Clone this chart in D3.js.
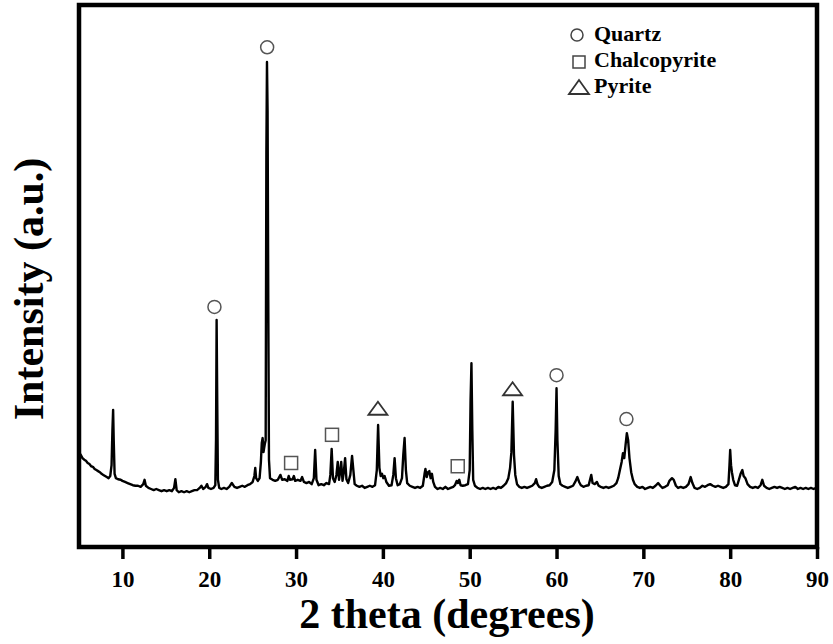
<!DOCTYPE html>
<html>
<head>
<meta charset="utf-8">
<script src="https://cdn.jsdelivr.net/npm/d3@7"></script>
<style>
  body { margin: 0; background: #fff; }
  text { font-family: "Liberation Serif", "Times New Roman", serif; font-weight: bold; }
</style>
</head>
<body>
<script>
// XRD pattern
var twoTheta = [5.0,5.2,5.4,5.6,5.8,6.0,6.2,6.4,6.6,6.8,7.0,7.2,7.4,7.6,7.8,8.0,8.2,8.4,8.6,8.75,8.85,8.93,9.0,9.1,9.25,9.5,9.8,
  10.0,10.3,10.6,10.9,11.2,11.5,11.8,12.1,12.4,12.55,12.7,13.0,13.3,13.6,13.9,14.2,14.5,14.8,15.1,15.4,15.7,15.95,16.1,16.25,16.5,16.8,
  17.1,17.4,17.7,18.0,18.3,18.6,18.9,19.1,19.3,19.6,19.75,19.9,20.2,20.5,20.7,20.78,20.85,20.92,21.0,21.15,21.4,21.7,22.0,22.3,22.6,
  22.9,23.2,23.5,23.8,24.1,24.4,24.7,25.0,25.2,25.3,25.4,25.6,25.8,25.95,26.05,26.15,26.25,26.4,26.5,26.58,26.65,26.72,26.8,26.88,27.0,
  27.3,27.6,27.9,28.2,28.4,28.7,29.0,29.15,29.3,29.6,29.75,29.9,30.2,30.5,30.7,30.9,31.2,31.5,31.8,32.05,32.2,32.35,32.6,32.9,33.2,
  33.5,33.8,33.95,34.1,34.25,34.45,34.65,34.8,34.95,35.1,35.2,35.35,35.5,35.65,35.8,36.0,36.25,36.45,36.6,36.75,37.0,37.3,37.6,37.9,
  38.2,38.5,38.8,39.1,39.3,39.45,39.6,39.75,39.9,40.05,40.2,40.4,40.7,41.0,41.2,41.35,41.5,41.7,41.95,42.2,42.35,42.5,42.65,42.8,
  43.1,43.4,43.7,44.0,44.3,44.6,44.8,44.9,45.05,45.2,45.35,45.5,45.65,45.8,46.0,46.3,46.6,46.9,47.2,47.5,47.8,48.1,48.3,48.5,48.65,
  48.8,48.95,49.2,49.5,49.8,50.0,50.1,50.2,50.3,50.4,50.6,50.9,51.2,51.5,51.8,52.1,52.4,52.7,53.0,53.3,53.6,53.9,54.2,54.45,54.65,
  54.8,54.95,55.1,55.25,55.45,55.7,56.0,56.3,56.6,56.9,57.2,57.5,57.65,57.8,58.0,58.3,58.6,58.9,59.2,59.5,59.75,59.9,60.0,60.1,60.25,
  60.45,60.7,61.0,61.3,61.6,61.9,62.15,62.4,62.6,62.8,63.1,63.4,63.7,63.9,64.0,64.15,64.4,64.65,64.85,65.1,65.4,65.7,66.0,66.3,66.6,
  66.9,67.1,67.3,67.5,67.65,67.8,67.95,68.1,68.25,68.4,68.6,68.8,69.0,69.3,69.6,69.9,70.2,70.5,70.8,71.1,71.4,71.7,71.95,72.2,72.5,
  72.8,73.0,73.3,73.5,73.75,74.0,74.3,74.6,74.9,75.2,75.45,75.65,75.9,76.2,76.5,76.8,77.1,77.4,77.7,78.0,78.3,78.6,78.9,79.2,79.5,
  79.8,79.92,80.0,80.1,80.2,80.35,80.55,80.8,81.0,81.2,81.4,81.55,81.75,82.0,82.3,82.6,82.9,83.2,83.5,83.7,83.9,84.2,84.5,84.8,85.1,
  85.4,85.7,86.0,86.3,86.6,86.9,87.2,87.5,87.8,88.1,88.4,88.7,89.0,89.3,89.6,89.9];

var intensity = [175,170,164,161,159,155,153,149,148,144,142,140,138,135,133,131,129,127,131,151,216,253,197,135,127,125,124,
  122,120,118,116,114,113,113,111,116,124,113,109,107,105,107,105,103,105,103,105,103,109,125,105,101,103,
  101,103,101,103,105,105,109,113,107,111,116,109,107,109,114,197,419,271,124,109,107,109,107,111,118,
  111,109,111,113,111,114,116,120,131,146,127,122,127,157,192,201,175,190,197,727,895,806,456,161,127,
  124,122,124,133,124,125,122,131,124,125,131,122,124,122,129,120,118,120,116,127,179,124,114,116,114,
  118,116,133,181,127,120,133,157,124,142,157,122,138,164,125,118,133,168,142,116,113,111,113,109,
  111,113,111,114,142,225,146,131,135,127,131,120,113,114,133,164,127,114,116,127,170,201,142,118,
  113,111,109,111,109,113,135,144,129,138,140,127,135,120,111,107,109,107,111,107,109,111,114,122,118,
  124,114,113,114,116,142,271,339,216,124,113,109,107,109,107,109,107,109,107,111,109,113,118,127,146,
  175,268,170,133,116,111,109,111,109,111,113,118,125,116,111,109,111,113,114,120,142,216,293,197,131,
  116,113,111,109,111,113,120,129,120,114,111,113,114,127,133,118,116,120,113,111,109,111,109,111,113,
  118,127,142,157,173,164,188,210,197,164,138,124,116,111,109,111,107,109,111,109,113,118,113,109,111,
  114,122,127,124,113,109,111,109,111,116,129,118,109,107,109,113,111,114,116,113,111,113,111,109,111,
  116,151,179,151,138,124,114,113,124,135,142,131,127,116,111,109,111,109,114,124,113,109,107,109,111,
  109,111,109,107,109,107,109,111,107,109,107,109,107,109,107,109];

// phase markers (position, height where the symbol sits)
var quartzX = [20.6, 26.67, 60.0, 68.05];
var quartzY = [443, 922, 317, 236];
var chalcoX = [29.43, 34.14, 48.62];
var chalcoY = [155, 207, 149];
var pyriteX = [39.43, 54.94];
var pyriteY = [256, 292];

var xTicks = [10, 20, 30, 40, 50, 60, 70, 80, 90];
var legendNames = ["Quartz", "Chalcopyrite", "Pyrite"];

var W = 833, H = 644;
var margin = {top: 5, right: 16, bottom: 97, left: 79};
var width = W - margin.left - margin.right;
var height = H - margin.top - margin.bottom;

var svg = d3.select("body").append("svg")
	.attr("width", W)
	.attr("height", H);

var g = svg.append("g")
	.attr("transform", "translate(" + margin.left + "," + margin.top + ")");

var x = d3.scaleLinear().domain([5, 90]).range([0, width]);
var y = d3.scaleLinear().domain([0, 1000]).range([height, 0]);

var data = twoTheta.map(function(t, i) { return [t, intensity[i]]; });

var line = d3.line()
	.x(function(d) { return x(d[0]); })
	.y(function(d) { return y(d[1]); });

g.append("path")
	.datum(data)
	.attr("fill", "none")
	.attr("stroke", "#000")
	.attr("stroke-width", 2.4)
	.attr("stroke-linejoin", "round")
	.attr("d", line);

// markers
var markStroke = "#555";
g.selectAll("circle.q")
	.data(quartzX)
	.enter().append("circle")
	.attr("class", "q")
	.attr("cx", function(d) { return x(d); })
	.attr("cy", function(d, i) { return y(quartzY[i]); })
	.attr("r", 6.5)
	.attr("fill", "none")
	.attr("stroke", markStroke)
	.attr("stroke-width", 1.5);

g.selectAll("rect.c")
	.data(chalcoX)
	.enter().append("rect")
	.attr("class", "c")
	.attr("x", function(d) { return x(d) - 6.5; })
	.attr("y", function(d, i) { return y(chalcoY[i]) - 6.5; })
	.attr("width", 13)
	.attr("height", 13)
	.attr("fill", "none")
	.attr("stroke", markStroke)
	.attr("stroke-width", 1.5);

function tri(cx, cy, w, h) {
	return "M" + (cx - w / 2) + "," + (cy + h / 2) + "L" + cx + "," + (cy - h / 2) + "L" + (cx + w / 2) + "," + (cy + h / 2) + "Z";
}

g.selectAll("path.p")
	.data(pyriteX)
	.enter().append("path")
	.attr("class", "p")
	.attr("d", function(d, i) { return tri(x(d), y(pyriteY[i]), 19, 13); })
	.attr("fill", "none")
	.attr("stroke", "#333")
	.attr("stroke-width", 1.8);

// frame
g.append("rect")
	.attr("width", width)
	.attr("height", height)
	.attr("fill", "none")
	.attr("stroke", "#000")
	.attr("stroke-width", 4.5);

var bottomAxis = d3.axisBottom(x)
	.tickValues(xTicks)
	.tickSize(12)
	.tickSizeOuter(0)
	.tickPadding(12);

var ax = g.append("g")
	.attr("transform", "translate(0," + height + ")")
	.call(bottomAxis);
ax.select(".domain").remove();
ax.selectAll("line").attr("stroke", "#000").attr("stroke-width", 3.5);
ax.selectAll("text")
	.attr("fill", "#000")
	.style("font-size", "23px")
	.style("font-family", "'Liberation Serif', serif")
	.style("font-weight", "bold");

// axis titles
svg.append("text")
	.attr("x", 447)
	.attr("y", 628)
	.attr("text-anchor", "middle")
	.attr("font-size", "42px")
	.text("2 theta (degrees)");

svg.append("text")
	.attr("transform", "translate(43,289) rotate(-90)")
	.attr("text-anchor", "middle")
	.attr("font-size", "42px")
	.text("Intensity (a.u.)");

// legend
var lg = svg.append("g");
lg.append("circle")
	.attr("cx", 577).attr("cy", 35).attr("r", 6)
	.attr("fill", "none").attr("stroke", "#444").attr("stroke-width", 1.5);
lg.append("rect")
	.attr("x", 573).attr("y", 56).attr("width", 12).attr("height", 12)
	.attr("fill", "none").attr("stroke", "#444").attr("stroke-width", 1.5);
lg.append("path")
	.attr("d", tri(579, 87, 20, 14))
	.attr("fill", "none").attr("stroke", "#333").attr("stroke-width", 1.8);

lg.selectAll("text")
	.data(legendNames)
	.enter().append("text")
	.attr("x", 594)
	.attr("y", function(d, i) { return 41 + i * 26; })
	.attr("font-size", "22px")
	.text(function(d) { return d; });
</script>
</body>
</html>
